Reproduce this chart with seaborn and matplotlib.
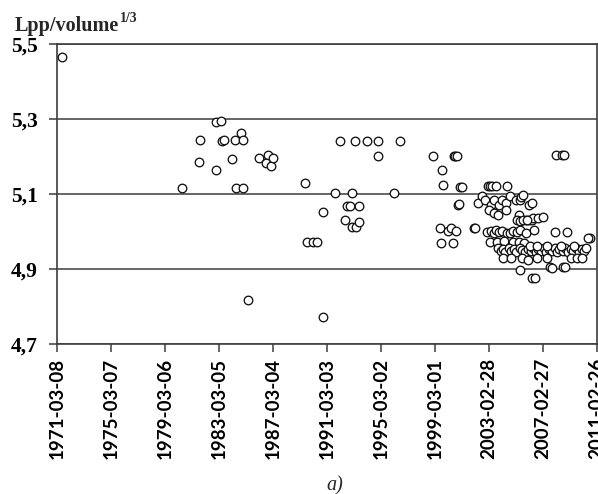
import matplotlib
matplotlib.use("Agg")
import matplotlib.pyplot as plt
import matplotlib.dates as mdates
import matplotlib.ticker as mticker
import pandas as pd
import seaborn as sns

# ---- data -------------------------------------------------------------
dates = [
    "1971-07-15", "1980-06-15", "1981-10-15", "1981-09-15", "1982-12-01",
    "1983-04-15", "1983-05-15", "1983-07-15", "1982-12-20", "1984-02-15",
    "1984-05-15", "1984-10-15", "1984-12-01", "1984-06-15", "1984-12-15",
    "1985-04-15", "1986-02-15", "1986-10-15", "1986-08-15", "1987-01-15",
    "1987-03-15", "1989-07-15", "1989-09-15", "1990-02-15", "1990-06-15",
    "1990-11-05", "1990-11-25", "1991-10-15", "1992-02-15", "1993-01-05",
    "1993-04-05", "1992-08-15", "1992-11-15", "1993-07-05", "1992-07-15",
    "1993-01-20", "1993-04-20", "1993-07-20", "1994-02-15", "1994-12-15",
    "1994-12-20", "1996-02-15", "1996-07-15", "1999-01-15", "1999-09-15",
    "1999-10-15", "1999-07-15", "2000-02-15", "2000-05-15", "2000-09-15",
    "1999-08-15", "2000-07-05", "2000-07-15", "2000-08-15", "2000-10-15",
    "2000-11-15", "2000-12-15", "2001-01-15", "2001-02-15", "2002-01-15",
    "2008-02-15", "2008-07-15", "2008-09-15", "2010-08-15", "2010-06-15",
    # 2002-2011
    "2003-02-01", "2003-04-01", "2003-05-15", "2003-09-01", "2004-07-01",
    "2002-05-15", "2002-08-15", "2002-11-15", "2003-04-15", "2003-07-15",
    "2003-11-15", "2004-02-15", "2004-06-15", "2004-09-15", "2005-02-15",
    "2005-06-15", "2005-07-15", "2005-09-15", "2006-02-15", "2006-05-15",
    "2003-02-15", "2003-07-01", "2003-11-01", "2004-06-01", "2005-06-01",
    "2005-11-15", "2006-02-01", "2006-05-01", "2006-06-15", "2006-10-15",
    "2007-02-15", "2005-03-15", "2005-06-20", "2005-09-01", "2005-12-15",
    "2002-02-15", "2003-01-15", "2003-04-20", "2003-07-20", "2003-09-15",
    "2003-11-20", "2004-02-20", "2004-06-20", "2004-09-20", "2004-12-15",
    "2005-03-20", "2005-06-25", "2005-11-20", "2006-06-20", "2008-01-15",
    "2008-12-15",
    "2003-03-15", "2003-10-15", "2004-04-15", "2004-12-20", "2005-05-15",
    "2005-09-20",
    "2003-11-10", "2004-01-15", "2004-03-15", "2004-05-15", "2004-08-15",
    "2004-10-15", "2005-01-15", "2005-03-10", "2005-06-10", "2005-08-15",
    "2005-11-10", "2006-01-15", "2006-04-15", "2006-06-10", "2006-08-15",
    "2006-10-10", "2007-01-15", "2007-03-15", "2007-05-15", "2007-08-15",
    "2007-10-15", "2008-01-10", "2008-03-15", "2008-05-15", "2008-08-15",
    "2008-10-15", "2009-01-15", "2009-03-15", "2009-05-15", "2009-08-15",
    "2009-10-15", "2010-01-15", "2010-03-15", "2010-05-15",
    "2006-03-15", "2006-09-15", "2007-06-15", "2008-06-15", "2009-06-15",
    "2004-03-20", "2004-10-20", "2005-08-20", "2006-01-20", "2006-09-20",
    "2007-06-20", "2009-03-20", "2009-09-15", "2010-01-20",
    "2007-09-15", "2007-10-20", "2008-08-20", "2008-10-20",
    "2005-06-05", "2006-05-10", "2006-07-15",
]
ratio = [
    5.465, 5.117, 5.243, 5.186, 5.292,
    5.294, 5.242, 5.244, 5.163, 5.194,
    5.243, 5.263, 5.244, 5.115, 5.116,
    4.816, 5.196, 5.203, 5.183, 5.174,
    5.197, 5.128, 4.973, 4.973, 4.973,
    5.052, 4.771, 5.103, 5.240, 5.103,
    5.240, 5.067, 5.067, 5.067, 5.031,
    5.013, 5.013, 5.025, 5.240, 5.240,
    5.200, 5.103, 5.240, 5.202, 5.163,
    5.123, 5.008, 5.000, 5.008, 5.000,
    4.968, 4.968, 5.201, 5.201, 5.201,
    5.071, 5.073, 5.119, 5.119, 5.009,
    5.204, 5.204, 5.204, 4.983, 4.983,
    # 2002-2011
    5.120, 5.120, 5.120, 5.120, 5.120,
    5.075, 5.094, 5.083, 5.070, 5.083,
    5.070, 5.083, 5.075, 5.094, 5.083,
    5.083, 5.092, 5.097, 5.070, 5.075,
    5.056, 5.048, 5.043, 5.056, 5.043,
    5.030, 5.030, 5.030, 5.035, 5.035,
    5.038, 5.030, 5.028, 5.030, 5.030,
    5.008, 4.998, 5.000, 4.995, 5.003,
    4.998, 5.000, 4.995, 4.995, 5.000,
    4.998, 5.003, 4.995, 5.003, 4.998,
    4.998,
    4.973, 4.971, 4.975, 4.971, 4.973,
    4.968,
    4.955, 4.948, 4.952, 4.945, 4.955,
    4.948, 4.952, 4.945, 4.955, 4.950,
    4.946, 4.953, 4.948, 4.955, 4.945,
    4.952, 4.948, 4.955, 4.946, 4.952,
    4.948, 4.955, 4.945, 4.952, 4.948,
    4.955, 4.946, 4.952, 4.948, 4.955,
    4.945, 4.952, 4.948, 4.955,
    4.962, 4.960, 4.962, 4.960, 4.962,
    4.928, 4.930, 4.928, 4.925, 4.928,
    4.928, 4.928, 4.930, 4.928,
    4.905, 4.903, 4.905, 4.905,
    4.898, 4.877, 4.877,
]

x_start, x_end = "1971-03-08", "2011-02-26"
y_ticks = [4.7, 4.9, 5.1, 5.3, 5.5]
title_main, title_sup = "Lpp/volume", "1/3"
caption = "a)"

df = pd.DataFrame({"date": pd.to_datetime(dates), "ratio": ratio})

# ---- figure -----------------------------------------------------------
sns.set_style("white")
plt.rcParams["font.family"] = ["Liberation Serif", "DejaVu Serif"]

W, H = 598, 494
fig = plt.figure(figsize=(W / 100, H / 100), dpi=100)
ax = fig.add_axes([57 / W, 1 - 344 / H, 540 / W, 300 / H])

dark = "#3c3c3c"
sns.scatterplot(data=df, x="date", y="ratio", ax=ax, marker="o", s=38,
                color="white", edgecolor="#111111", linewidth=0.95,
                legend=False, zorder=3, clip_on=False)

ax.set_ylim(y_ticks[0], y_ticks[-1])
ax.set_yticks(y_ticks)
ax.yaxis.set_major_formatter(
    mticker.FuncFormatter(lambda v, _: f"{v:.1f}".replace(".", ",")))

t0, t1 = pd.Timestamp(x_start), pd.Timestamp(x_end)
ax.set_xlim(t0, t1)
ax.set_xticks(pd.date_range(t0, t1, freq="1460D"))
ax.xaxis.set_major_formatter(mdates.DateFormatter("%Y-%m-%d"))

ax.grid(axis="y", color=dark, linewidth=1.1, zorder=1)
ax.grid(axis="x", visible=False)
for sp in ax.spines.values():
    sp.set_color(dark)
    sp.set_linewidth(1.2)

ax.tick_params(axis="both", direction="out", length=6, width=1.1,
               color=dark, left=True, bottom=True)
ax.tick_params(axis="y", pad=8)
ax.tick_params(axis="x", pad=4)
for lab in ax.get_yticklabels():
    lab.set_fontweight("bold")
    lab.set_fontsize(15.5)
    lab.set_color("black")
for lab in ax.get_xticklabels():
    lab.set_rotation(90)
    lab.set_fontfamily(["Lato", "DejaVu Sans"])
    lab.set_fontweight("bold")
    lab.set_fontsize(13.5)
    lab.set_color("black")
    lab.set_ha("center")
    lab.set_va("top")

ax.set_xlabel("")
ax.set_ylabel("")

# axis title with superscript
t = fig.text(15 / W, 1 - 31 / H, title_main, fontsize=14.5,
             fontweight="bold", ha="left", va="baseline")
fig.canvas.draw()
bb = t.get_window_extent(renderer=fig.canvas.get_renderer())
fig.text(bb.x1 / W + 0.001, 1 - 22 / H, title_sup, fontsize=10,
         fontweight="bold", ha="left", va="baseline")

fig.text(335 / W, 1 - 490 / H, caption, fontsize=14.5, fontstyle="italic",
         ha="center", va="baseline")

fig.savefig("out.png", dpi=100, facecolor="white")
